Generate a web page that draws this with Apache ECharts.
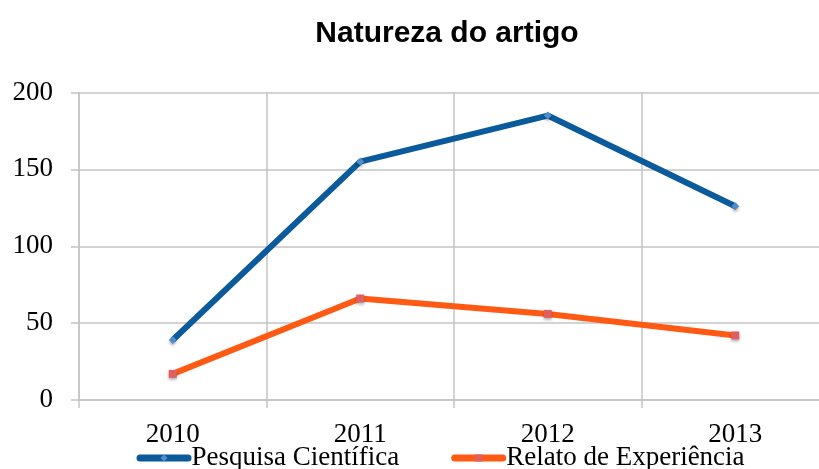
<!DOCTYPE html>
<html>
<head>
<meta charset="utf-8">
<script src="https://cdn.jsdelivr.net/npm/echarts@6/dist/echarts.min.js"></script>
<style>
    html, body { margin: 0; padding: 0; background: #fff; }
    #chart { width: 819px; height: 469px; }
</style>
</head>
<body>
<div id="chart"></div>
<script>
const years = ['2010', '2011', '2012', '2013'];
const pesquisa = [39, 155, 185, 126];
const relato = [17, 66, 56, 42];
const yTicks = [0, 50, 100, 150, 200];

const serif = '"Liberation Serif", "DejaVu Serif", serif';
const gridGrey = '#c4c4c4';

const chart = echarts.init(document.getElementById('chart'));

const option = {
    animation: false,
    title: {
        text: 'Natureza do artigo',
        left: 442,
        top: 14,
        textAlign: 'center',
        textStyle: {
            fontFamily: '"Liberation Sans", Arial, sans-serif',
            fontWeight: 'bold',
            fontSize: 30,
            color: '#000'
        }
    },
    legend: {
        left: 136.5,
        top: 444.5,
        padding: 0,
        itemWidth: 48,
        itemHeight: 9,
        itemGap: 52,
        lineStyle: { width: 7, cap: 'round' },
        textStyle: {
            fontFamily: serif,
            fontSize: 27,
            color: '#000',
            padding: [0, 0, 6, -1.5]
        },
        data: ['Pesquisa Científica', 'Relato de Experiência']
    },
    grid: {
        left: 79,
        top: 92.5,
        width: 750,
        height: 307.5,
        outerBoundsMode: 'none'
    },
    xAxis: {
        type: 'category',
        data: years,
        boundaryGap: true,
        axisLine: { lineStyle: { color: gridGrey, width: 1.5 } },
        axisTick: { show: true, length: 8, lineStyle: { color: gridGrey, width: 1.5 } },
        splitLine: { show: true, lineStyle: { color: gridGrey, width: 1.5 } },
        axisLabel: {
            fontFamily: serif,
            fontSize: 27,
            color: '#000',
            margin: 21
        }
    },
    yAxis: {
        type: 'value',
        min: yTicks[0],
        max: yTicks[yTicks.length - 1],
        interval: 50,
        axisLine: { show: true, lineStyle: { color: gridGrey, width: 1.5 } },
        axisTick: { show: true, length: 8, lineStyle: { color: gridGrey, width: 1.5 } },
        splitLine: { show: true, lineStyle: { color: gridGrey, width: 1.5 } },
        axisLabel: {
            fontFamily: serif,
            fontSize: 27,
            color: '#000',
            margin: 26
        }
    },
    series: [
        {
            name: 'Pesquisa Científica',
            type: 'line',
            data: pesquisa,
            symbol: 'diamond',
            symbolSize: 8,
            showAllSymbol: true,
            lineStyle: { color: '#0a5a9c', width: 6 },
            itemStyle: {
                color: '#4f8ccc',
                shadowColor: 'rgba(0,0,0,0.3)',
                shadowBlur: 3,
                shadowOffsetY: 2
            }
        },
        {
            name: 'Relato de Experiência',
            type: 'line',
            data: relato,
            symbol: 'rect',
            symbolSize: 8,
            showAllSymbol: true,
            lineStyle: { color: '#ff5a14', width: 6 },
            itemStyle: {
                color: '#de6060',
                shadowColor: 'rgba(0,0,0,0.3)',
                shadowBlur: 3,
                shadowOffsetY: 2
            }
        }
    ]
};

chart.setOption(option);
window.addEventListener('resize', () => chart.resize());
</script>
</body>
</html>
